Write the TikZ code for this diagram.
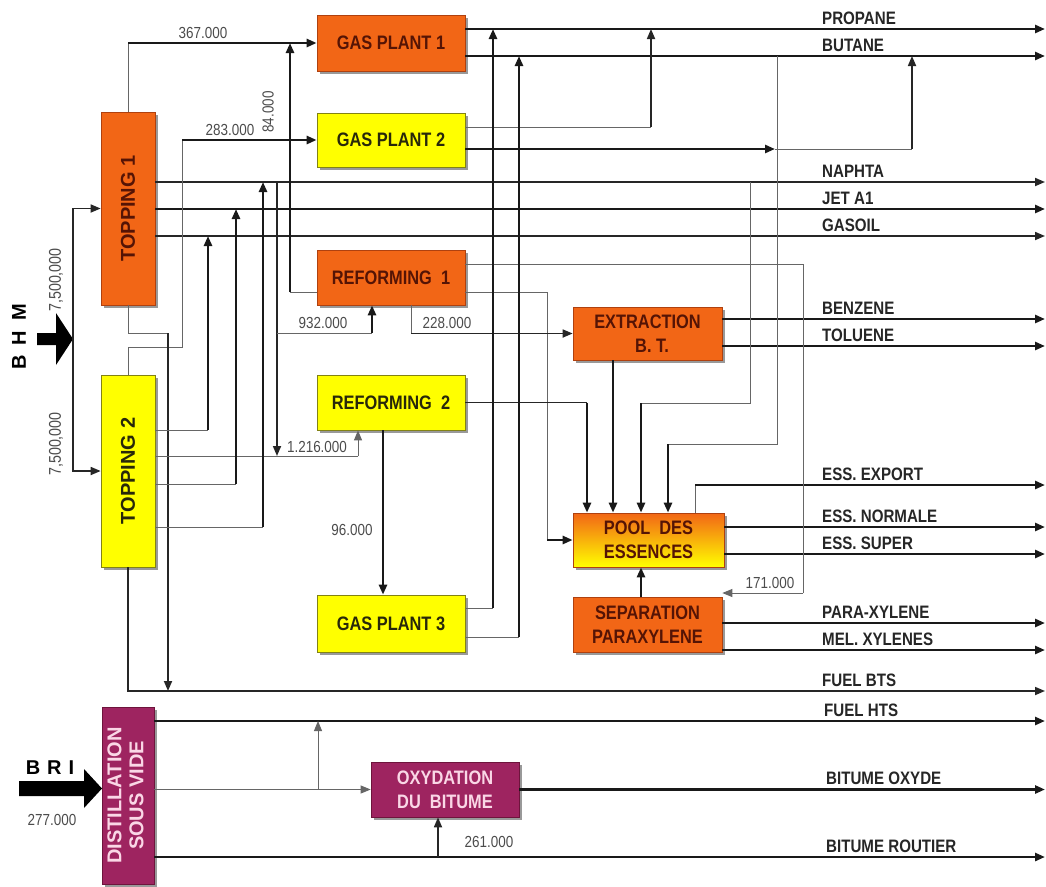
\documentclass[tikz,border=0pt]{standalone}
\usepackage{fontspec}
\usepackage{graphicx}
\setmainfont{Liberation Sans}
\newfontfamily\cnd[FakeStretch=0.84]{Liberation Sans}
\usetikzlibrary{arrows.meta,shadows}
\definecolor{orng}{RGB}{242,102,22}
\definecolor{orngd}{RGB}{175,65,15}
\definecolor{yel}{RGB}{255,255,0}
\definecolor{yeld}{RGB}{130,130,20}
\definecolor{purp}{RGB}{158,36,96}
\definecolor{purpd}{RGB}{110,20,60}
\definecolor{txtbr}{RGB}{85,20,5}
\definecolor{txty}{RGB}{40,40,10}
\definecolor{txtp}{RGB}{250,215,230}
\tikzset{
 bx/.style={draw, line width=0.7pt, inner sep=0pt, align=center,
   font=\cnd\bfseries\fontsize{19.5}{24}\selectfont,
   drop shadow={shadow xshift=2.5pt, shadow yshift=-2.5pt, fill=black, opacity=0.4}},
 obox/.style={bx, fill=orng, draw=orngd, text=txtbr},
 ybox/.style={bx, fill=yel, draw=yeld, text=txty},
 pbox/.style={bx, fill=purp, draw=purpd, text=txtp},
 vfont/.style={font=\bfseries\fontsize{20}{22}\selectfont},
 thk/.style={line width=2.6pt, draw=black!90},
 med/.style={line width=1.7pt, draw=black!85},
 thn/.style={line width=0.9pt, draw=black!60},
 arr/.style={-{Triangle[length=10pt,width=8pt]}},
 prod/.style={anchor=base west, font=\cnd\bfseries\fontsize{18}{20}\selectfont, text=black!85, inner sep=0pt},
 qty/.style={font=\cnd\fontsize{16}{18}\selectfont, text=black!70, inner sep=0pt},
}
\begin{document}
\begin{tikzpicture}[x=1pt,y=-1pt]
\fill[white] (0,0) rectangle (1046,886);
\useasboundingbox (0,0) rectangle (1046,886);

% ---------- boxes ----------
\node[obox, vfont, minimum width=54pt, minimum height=193pt] (T1) at (128,208.5) {\rotatebox{90}{TOPPING 1}};
\node[ybox, vfont, minimum width=54pt, minimum height=192pt] (T2) at (128,471) {\rotatebox{90}{TOPPING 2}};
\node[obox, minimum width=148pt, minimum height=56pt] (GP1) at (391,43) {GAS PLANT 1};
\node[ybox, minimum width=148pt, minimum height=54pt] (GP2) at (391,140) {GAS PLANT 2};
\node[obox, minimum width=148pt, minimum height=55pt] (RF1) at (391,277.5) {REFORMING\ \ 1};
\node[ybox, minimum width=148pt, minimum height=55pt] (RF2) at (391,402.5) {REFORMING\ \ 2};
\node[ybox, minimum width=148pt, minimum height=57pt] (GP3) at (391,623.5) {GAS PLANT 3};
\node[obox, minimum width=149pt, minimum height=53pt] (EXT) at (647.5,333.5) {EXTRACTION\\\ \ B. T.};
\node[bx, top color=orng, bottom color=yel, draw=orngd, text=txtbr, minimum width=151pt, minimum height=54pt] (POOL) at (648.5,540) {POOL\ \ DES\\ESSENCES};
\node[obox, minimum width=149pt, minimum height=55pt] (SEP) at (647.5,624.5) {SEPARATION\\PARAXYLENE};
\node[pbox, vfont, minimum width=52pt, minimum height=177pt] (DSV) at (128,795.5) {\rotatebox{90}{\begin{tabular}{@{}c@{}}DISTILLATION\\SOUS VIDE\end{tabular}}};
\node[pbox, minimum width=148pt, minimum height=55pt] (OXY) at (445,789.5) {OXYDATION\\DU\ \ BITUME};

% ---------- right-hand ends ----------
\coordinate (rPROP) at (1045,29);
\coordinate (rBUT) at (1045,56);
\coordinate (rNAP) at (1045,182);
\coordinate (rJET) at (1045,209);
\coordinate (rGAS) at (1045,236);
\coordinate (rBEN) at (1045,319);
\coordinate (rTOL) at (1045,346);
\coordinate (rEXP) at (1045,485);
\coordinate (rNOR) at (1045,527);
\coordinate (rSUP) at (1045,554);
\coordinate (rPX) at (1045,623);
\coordinate (rMX) at (1045,650);
\coordinate (rBTS) at (1045,691);
\coordinate (rHTS) at (1045,721);
\coordinate (rBOX) at (1045,789.5);
\coordinate (rBRT) at (1045,857);

% ---------- junctions ----------
\coordinate (bhm) at (73,339);
\coordinate (j290) at (290,292);
\coordinate (j182) at (182,347);
\coordinate (j168) at (168,333);
\coordinate (g2a) at (651,127);
\coordinate (g2b) at (775,149);
\coordinate (g2c) at (912,149);
\coordinate (j277) at (277,182);
\coordinate (r1in) at (372,333);
\coordinate (r2in) at (358,456);
\coordinate (t2a) at (208,430);
\coordinate (t2c) at (236,484);
\coordinate (t2d) at (263,527);
\coordinate (j803) at (803,264);
\coordinate (j803b) at (803,593);
\coordinate (j547) at (547,292);
\coordinate (j411) at (411,333.5);
\coordinate (j587) at (587,402.5);
\coordinate (x613) at (613,360);
\coordinate (j750) at (750,182);
\coordinate (j750b) at (750,403);
\coordinate (j641) at (641,403);
\coordinate (j777) at (777,56);
\coordinate (j777b) at (777,444);
\coordinate (j668) at (668,444);
\coordinate (pX) at (695,485);
\coordinate (x383) at (383,430);
\coordinate (g3a) at (493,608);
\coordinate (g3b) at (519,637);
\coordinate (j318) at (318,789.5);
\coordinate (j438) at (438,857);

% ---------- feed arrows ----------
\fill[black] (37,333) -- (56,333) -- (56,313) -- (73,339) -- (56,365) -- (56,345) -- (37,345) -- cycle;
\fill[black] (19,781) -- (84,781) -- (84,769) -- (102,788.5) -- (84,808) -- (84,796) -- (19,796) -- cycle;
\draw[med,arr] (bhm) |- (T1.west);
\draw[med,arr] (bhm) |- (T2.west);

% ---------- product lines ----------
\draw[thk,arr] (GP1.east |- rPROP) -- (rPROP);
\draw[thk,arr] (GP1.east |- rBUT) -- (rBUT);
\draw[med,arr] (T1.east |- rNAP) -- (rNAP);
\draw[thk,arr] (T1.east |- rJET) -- (rJET);
\draw[med,arr] (T1.east |- rGAS) -- (rGAS);
\draw[thk,arr] (EXT.east |- rBEN) -- (rBEN);
\draw[thk,arr] (EXT.east |- rTOL) -- (rTOL);
\draw[thn] (POOL.north -| pX) -- (pX);
\draw[thk,arr] (pX) -- (rEXP);
\draw[thk,arr] (POOL.east |- rNOR) -- (rNOR);
\draw[thk,arr] (POOL.east |- rSUP) -- (rSUP);
\draw[thk,arr] (SEP.east |- rPX) -- (rPX);
\draw[thk,arr] (SEP.east |- rMX) -- (rMX);
\draw[med,arr] (T2.south) |- (rBTS);
\draw[thk,arr] (DSV.east |- rHTS) -- (rHTS);
\draw[thk,arr] (OXY.east) -- (rBOX);
\draw[thk,arr] (DSV.east |- rBRT) -- (rBRT);

% ---------- internal flows ----------
\draw[thn] (T1.north) -- (T1.north |- GP1.west);
\draw[thk,arr] (T1.north |- GP1.west) -- (GP1.west);
\draw[thn] (RF1.west |- j290) -- (j290);
\draw[thk,arr] (j290) -- (j290 |- GP1.west);
\draw[thn] (T2.north) |- (j182) -- (j182 |- GP2.west);
\draw[thk,arr] (j182 |- GP2.west) -- (GP2.west);
\draw[thn] (T1.south) |- (j168);
\draw[med,arr] (j168) -- (j168 |- rBTS);
\draw[thn] (GP2.east |- g2a) -- (g2a);
\draw[med,arr] (g2a) -- (g2a |- rPROP);
\draw[thk,arr] (GP2.east |- g2b) -- (g2b);
\draw[thn] (g2b) -- (g2c);
\draw[med,arr] (g2c) -- (g2c |- rBUT);
\draw[med,arr] (j277) -- (j277 |- r2in);
\draw[thn] (j277 |- r1in) -- (r1in);
\draw[thk,arr] (r1in) -- (r1in |- RF1.south);
\draw[thn] (T2.east |- t2a) -- (t2a);
\draw[thk,arr] (t2a) -- (t2a |- rGAS);
\draw[thn] (T2.east |- r2in) -- (r2in);
\draw[thn,arr] (r2in) -- (r2in |- RF2.south);
\draw[thn] (T2.east |- t2c) -- (t2c);
\draw[thk,arr] (t2c) -- (t2c |- rJET);
\draw[thn] (T2.east |- t2d) -- (t2d);
\draw[thk,arr] (t2d) -- (t2d |- rNAP);
\draw[thn] (RF1.east |- j803) -- (j803) -- (j803b);
\draw[thn,arr] (j803b) -- (SEP.east |- j803b);
\draw[thn] (RF1.east |- j547) -- (j547) -- (j547 |- POOL.west);
\draw[thk,arr] (j547 |- POOL.west) -- (POOL.west);
\draw[thn] (j411 |- RF1.south) -- (j411);
\draw[med,arr] (j411) -- (EXT.west);
\draw[med] (RF2.east) -- (j587);
\draw[thk,arr] (j587) -- (j587 |- POOL.north);
\draw[thk,arr] (EXT.south -| x613) -- (POOL.north -| x613);
\draw[thn] (j750) -- (j750b) -- (j641);
\draw[thk,arr] (j641) -- (j641 |- POOL.north);
\draw[thn] (j777) -- (j777b) -- (j668);
\draw[thk,arr] (j668) -- (j668 |- POOL.north);
\draw[thk,arr] (SEP.north -| j641) -- (POOL.south -| j641);
\draw[thk,arr] (RF2.south -| x383) -- (GP3.north -| x383);
\draw[thn] (GP3.east |- g3a) -- (g3a);
\draw[thk,arr] (g3a) -- (g3a |- rPROP);
\draw[thn] (GP3.east |- g3b) -- (g3b);
\draw[thk,arr] (g3b) -- (g3b |- rBUT);
\draw[thn,arr] (DSV.east |- OXY.west) -- (OXY.west);
\draw[thn,arr] (j318) -- (j318 |- rHTS);
\draw[med,arr] (j438) -- (j438 |- OXY.south);

% ---------- product labels ----------
\node[prod] (lPROP) at (822,24) {PROPANE};
\node[prod] (lBUT) at (822,51) {BUTANE};
\node[prod] (lNAP) at (822,177) {NAPHTA};
\node[prod] (lJET) at (822,204) {JET A1};
\node[prod] (lGAS) at (822,231) {GASOIL};
\node[prod] (lBEN) at (822,314) {BENZENE};
\node[prod] (lTOL) at (822,341) {TOLUENE};
\node[prod] (lEXP) at (822,480) {ESS. EXPORT};
\node[prod] (lNOR) at (822,522) {ESS. NORMALE};
\node[prod] (lSUP) at (822,549) {ESS. SUPER};
\node[prod] (lPX) at (822,618) {PARA-XYLENE};
\node[prod] (lMX) at (822,645) {MEL. XYLENES};
\node[prod] (lBTS) at (822,686) {FUEL BTS};
\node[prod] (lHTS) at (824,716) {FUEL HTS};
\node[prod] (lBOX) at (826,784) {BITUME OXYDE};
\node[prod] (lBRT) at (826,852) {BITUME ROUTIER};

% ---------- quantities ----------
\node[qty] (q367) at (203,33) {367.000};
\node[qty] (q283) at (230,130) {283.000};
\node[qty, rotate=90] (q84) at (268,112) {84.000};
\node[qty] (q932) at (323,323) {932.000};
\node[qty] (q228) at (447,323) {228.000};
\node[qty] (q1216) at (317,447) {1.216.000};
\node[qty] (q96) at (352,530) {96.000};
\node[qty] (q171) at (770,583) {171.000};
\node[qty] (q261) at (489,842) {261.000};
\node[qty] (q277) at (52,820) {277.000};
\node[qty, rotate=90, font=\cnd\fontsize{17}{19}\selectfont] (q75a) at (56,280) {7,500,000};
\node[qty, rotate=90, font=\cnd\fontsize{17}{19}\selectfont] (q75b) at (56,444) {7,500,000};

% ---------- feed names ----------
\node[font=\bfseries\fontsize{20}{22}\selectfont, inner sep=0pt] (bhmt) at (19,337) {\rotatebox{90}{B\hskip 10pt H\hskip 10pt M}};
\node[font=\bfseries\fontsize{20}{22}\selectfont, inner sep=0pt] (brit) at (50,768) {B\hskip 7pt R\hskip 7pt I};
\end{tikzpicture}
\end{document}
